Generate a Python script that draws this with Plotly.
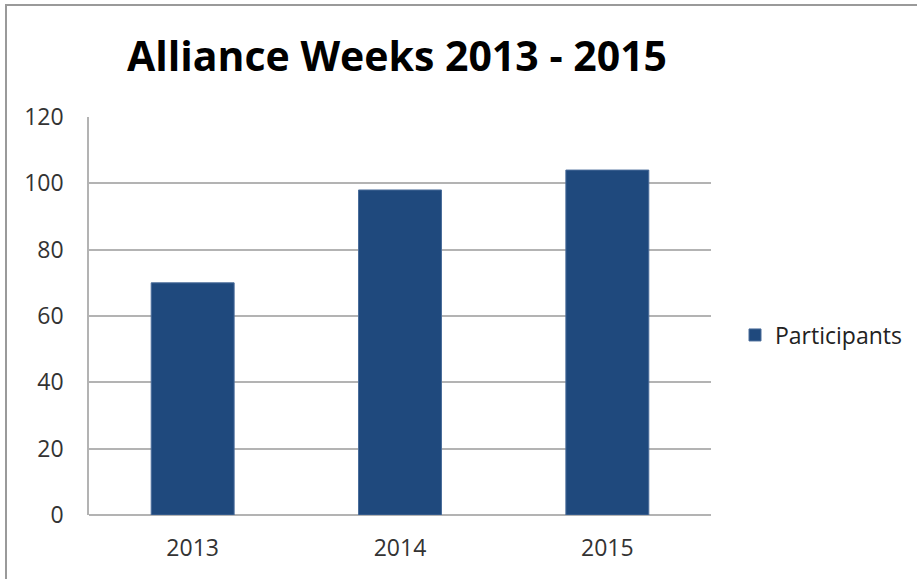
import plotly.graph_objects as go

years = ["2013", "2014", "2015"]
participants = [70, 98, 104]
y_ticks = [0, 20, 40, 60, 80, 100, 120]

W, H = 917, 579
L, T = 89, 117
R = W - 711
B = H - 515
pw = W - L - R
ph = H - T - B

def px(x):
    return (x - L) / pw

def py(y):
    return 1 - (y - T) / ph

fig = go.Figure()
fig.add_trace(go.Bar(
    x=years, y=participants, name="Participants",
    marker=dict(color="#1F497D", line=dict(color="#4a6c9a", width=1)),
))

fig.update_layout(
    width=W, height=H,
    margin=dict(l=L, r=R, t=T, b=B, autoexpand=False),
    paper_bgcolor="white", plot_bgcolor="white",
    bargap=0.6,
    showlegend=True,
    font=dict(family="Open Sans", color="#222222"),
    title=dict(text="<b>Alliance Weeks 2013 - 2015</b>", xref="container", x=397 / W,
               xanchor="center", yref="container", y=1 - 57 / H, yanchor="middle",
               font=dict(family="Open Sans", size=41, color="#000000")),
    legend=dict(x=px(735), xanchor="left", y=py(335), yanchor="middle",
                font=dict(size=23, color="#222222"), itemwidth=30),
    xaxis=dict(showline=False, ticks="", ticklabelstandoff=17,
               tickfont=dict(size=23, color="#333333")),
    yaxis=dict(range=[0, 120], tickvals=y_ticks, showgrid=True, gridcolor="#b3b3b3",
               gridwidth=1.5, showline=True, linecolor="#b3b3b3", linewidth=1.5,
               zeroline=True, zerolinecolor="#b3b3b3", zerolinewidth=1.5,
               ticks="", ticklabelstandoff=19, tickfont=dict(size=23, color="#333333")),
)
fig.add_shape(type="line", xref="paper", yref="paper", x0=px(5), x1=px(917), y0=py(5), y1=py(5),
              line=dict(color="#9a9a9a", width=2))
fig.add_shape(type="line", xref="paper", yref="paper", x0=px(6), x1=px(6), y0=py(579), y1=py(5),
              line=dict(color="#9a9a9a", width=2))

fig.write_html("out.html", config={"displayModeBar": False},
               post_script="document.body.style.margin='0';document.body.style.overflow='hidden';")
